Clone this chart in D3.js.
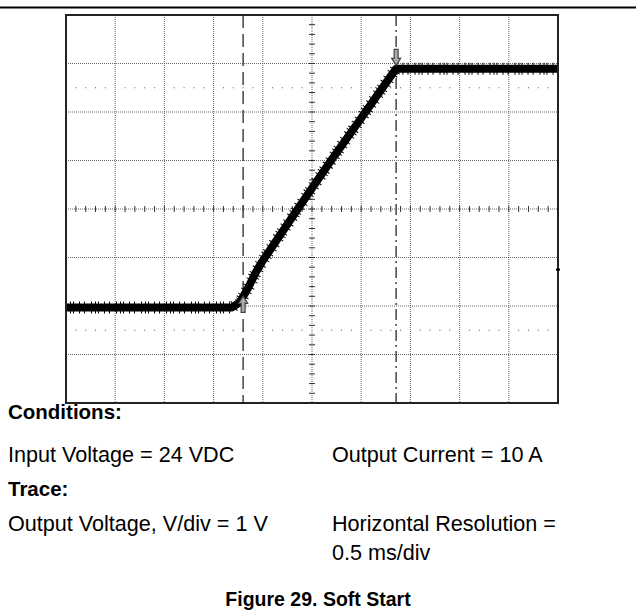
<!DOCTYPE html>
<html>
<head>
<meta charset="utf-8">
<script src="https://cdn.jsdelivr.net/npm/d3@7"></script>
<style>
  body { margin: 0; background: #fff; }
  text { font-family: "Liberation Sans", Arial, Helvetica, sans-serif; fill: #000; }
</style>
</head>
<body>
<div id="chart"></div>
<script>
// scope screen: 10 div x 0.5 ms, 8 div x 1 V
var divTimes = [0, 0.5, 1, 1.5, 2, 2.5, 3, 3.5, 4, 4.5, 5];
var divVolts = [-2, -1, 0, 1, 2, 3, 4, 5, 6];
var dotRowVolts = [4.5, -0.5];

// output voltage trace (ms, V)
var traceTime = [0, 1.687, 1.768, 1.850, 1.931, 1.992, 2.348, 2.683, 2.988, 3.293, 3.354, 5.0];
var traceVolt = [-0.03, -0.03, 0.08, 0.37, 0.70, 0.91, 1.98, 2.97, 3.84, 4.72, 4.89, 4.89];

// cursors (ms)
var cursorTimes = [1.80, 3.355];
var cursorVolts = [0.2, 4.96];

var leftLines = [
  {text: "Conditions:", bold: true, y: 419},
  {text: "Input Voltage = 24 VDC", bold: false, y: 462},
  {text: "Trace:", bold: true, y: 496},
  {text: "Output Voltage, V/div = 1 V", bold: false, y: 531}
];
var rightLines = [
  {text: "Output Current = 10 A", y: 462},
  {text: "Horizontal Resolution =", y: 531},
  {text: "0.5 ms/div", y: 560}
];
var title = "Figure 29. Soft Start";

var width = 636, height = 610;

var svg = d3.select('#chart').append('svg')
    .attr('width', width)
    .attr('height', height);

svg.append('rect')
    .attr('width', width)
    .attr('height', height)
    .attr('fill', '#fff');

// page rule
svg.append('line')
    .attr('x1', 0).attr('x2', width)
    .attr('y1', 7.5).attr('y2', 7.5)
    .attr('stroke', '#000')
    .attr('stroke-width', 2);

var x = d3.scaleLinear().domain([0, 5]).range([66, 558]);
var y = d3.scaleLinear().domain([-2, 6]).range([403, 15]);

var g = svg.append('g').attr('id', 'scope');

// grid
g.selectAll('.vgrid')
    .data(divTimes.slice(1, -1))
    .enter().append('line')
    .attr('class', 'vgrid')
    .attr('x1', function (d) { return x(d); })
    .attr('x2', function (d) { return x(d); })
    .attr('y1', y(6)).attr('y2', y(-2))
    .attr('stroke', '#666')
    .attr('stroke-dasharray', '1,1');

g.selectAll('.hgrid')
    .data(divVolts.slice(1, -1))
    .enter().append('line')
    .attr('class', 'hgrid')
    .attr('x1', x(0)).attr('x2', x(5))
    .attr('y1', function (d) { return y(d); })
    .attr('y2', function (d) { return y(d); })
    .attr('stroke', '#666')
    .attr('stroke-dasharray', '1,1');

// dotted rows
var dotX = d3.range(0, 5.001, 0.1).filter(function (t) {
    return Math.abs(t * 2 - Math.round(t * 2)) > 0.01;
});
dotRowVolts.forEach(function (v) {
    g.selectAll(null)
        .data(dotX)
        .enter().append('rect')
        .attr('x', function (d) { return x(d) - 0.5; })
        .attr('y', y(v) - 0.5)
        .attr('width', 1).attr('height', 1)
        .attr('fill', '#555');
});

// center axes minor ticks
g.selectAll('.xtick')
    .data(d3.range(0.1, 5, 0.1))
    .enter().append('line')
    .attr('x1', function (d) { return x(d); })
    .attr('x2', function (d) { return x(d); })
    .attr('y1', y(2) - 3).attr('y2', y(2) + 3)
    .attr('stroke', '#333');

g.selectAll('.ytick')
    .data(d3.range(-1.8, 6, 0.2))
    .enter().append('line')
    .attr('y1', function (d) { return y(d); })
    .attr('y2', function (d) { return y(d); })
    .attr('x1', x(2.5) - 3).attr('x2', x(2.5) + 3)
    .attr('stroke', '#333');

// cursors
g.append('line')
    .attr('x1', x(cursorTimes[0])).attr('x2', x(cursorTimes[0]))
    .attr('y1', y(6)).attr('y2', y(-2))
    .attr('stroke', '#444')
    .attr('stroke-width', 1.5)
    .attr('stroke-dasharray', '13,6');

g.append('line')
    .attr('x1', x(cursorTimes[1])).attr('x2', x(cursorTimes[1]))
    .attr('y1', y(6)).attr('y2', y(-2))
    .attr('stroke', '#444')
    .attr('stroke-width', 1.5)
    .attr('stroke-dasharray', '11,4,2,4');

// trace
var traceData = traceTime.map(function (t, i) { return [t, traceVolt[i]]; });
var line = d3.line()
    .x(function (d) { return x(d[0]); })
    .y(function (d) { return y(d[1]); });

g.append('path')
    .datum(traceData)
    .attr('d', line)
    .attr('fill', 'none')
    .attr('stroke', '#000')
    .attr('stroke-width', 8)
    .attr('stroke-linejoin', 'round');

g.append('path')
    .datum(traceData)
    .attr('d', line)
    .attr('fill', 'none')
    .attr('stroke', '#000')
    .attr('stroke-width', 12)
    .attr('stroke-dasharray', '1,3,1,2,1,5,1,4,1,6');

// cursor arrows
function arrow(cx, tipY, dir) {
    var h = 7 * dir, L = 16 * dir;
    var pts = [[cx, tipY], [cx - 4.5, tipY + h], [cx - 2, tipY + h], [cx - 2, tipY + L],
               [cx + 2, tipY + L], [cx + 2, tipY + h], [cx + 4.5, tipY + h]];
    g.append('path')
        .attr('d', 'M' + pts.join('L') + 'Z')
        .attr('fill', '#aaa')
        .attr('stroke', '#444')
        .attr('stroke-width', 1.2);
}
arrow(x(cursorTimes[0]), y(cursorVolts[0]), 1);
arrow(x(cursorTimes[1]), y(cursorVolts[1]), -1);

// frame
g.append('rect')
    .attr('x', x(0)).attr('y', y(6))
    .attr('width', x(5) - x(0))
    .attr('height', y(-2) - y(6))
    .attr('fill', 'none')
    .attr('stroke', '#222')
    .attr('stroke-width', 2);

// trigger marker on right edge
g.append('line')
    .attr('x1', x(5) - 2).attr('x2', x(5) + 2)
    .attr('y1', y(0.75)).attr('y2', y(0.75))
    .attr('stroke', '#000').attr('stroke-width', 2);

// captions
svg.selectAll('.lt')
    .data(leftLines)
    .enter().append('text')
    .attr('x', 8)
    .attr('y', function (d) { return d.y; })
    .style('font-size', function (d) { return d.bold ? '20.5px' : '21.6px'; })
    .style('font-weight', function (d) { return d.bold ? 'bold' : 'normal'; })
    .text(function (d) { return d.text; });

svg.selectAll('.rt')
    .data(rightLines)
    .enter().append('text')
    .attr('x', 332)
    .attr('y', function (d) { return d.y; })
    .style('font-size', '21.6px')
    .text(function (d) { return d.text; });

svg.append('text')
    .attr('x', 318)
    .attr('y', 606)
    .style('text-anchor', 'middle')
    .style('font-size', '19.5px')
    .style('font-weight', 'bold')
    .text(title);
</script>
</body>
</html>
